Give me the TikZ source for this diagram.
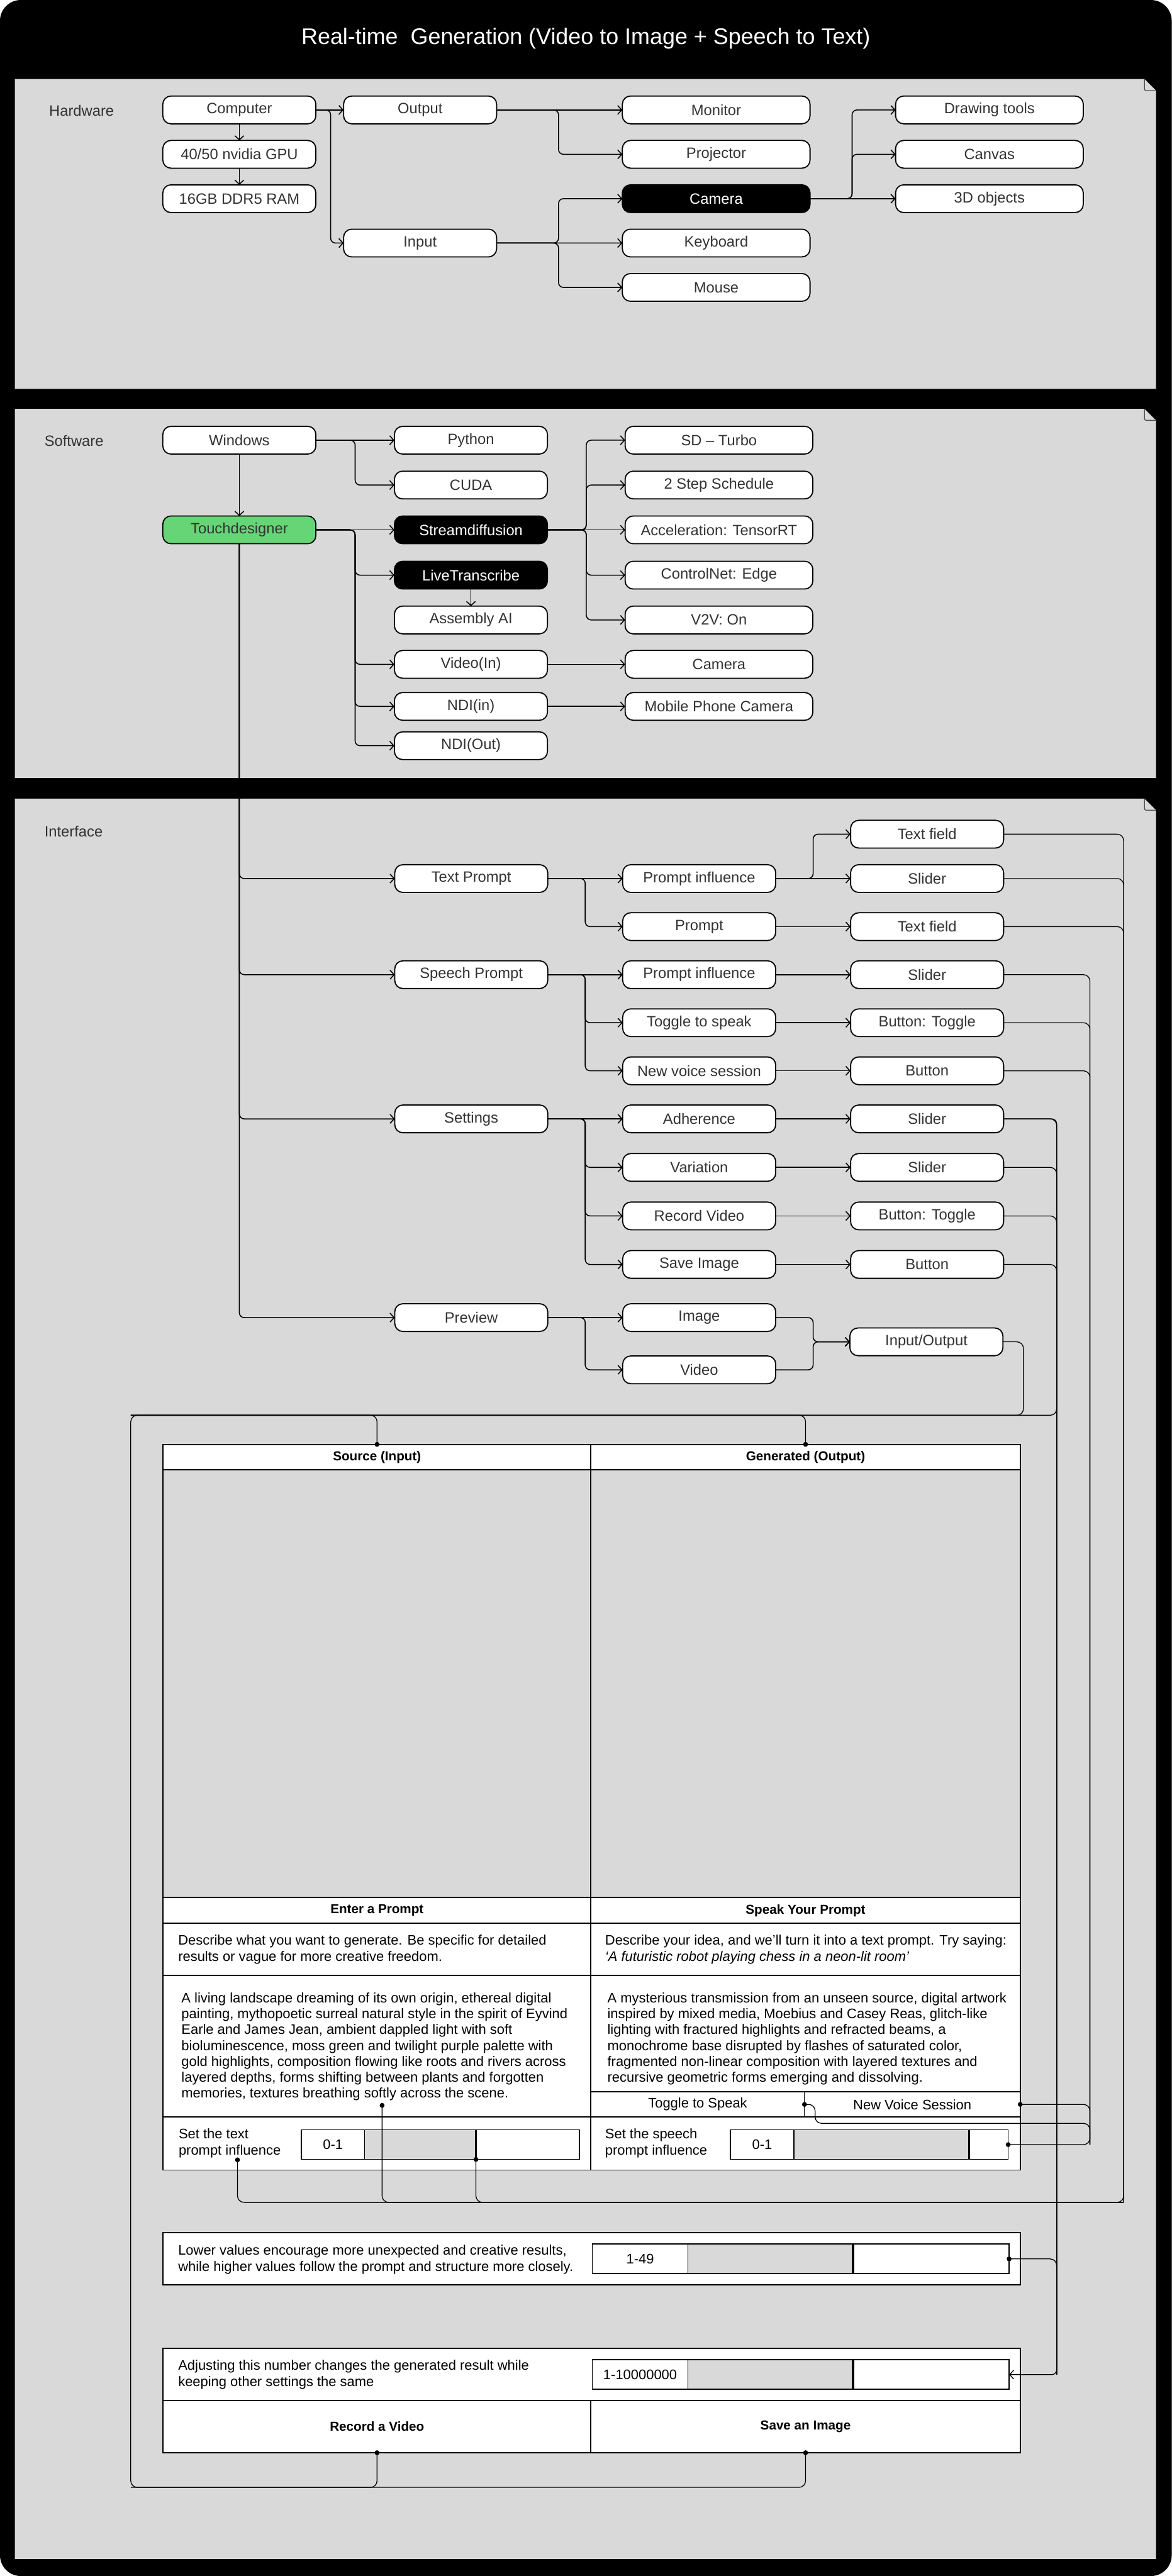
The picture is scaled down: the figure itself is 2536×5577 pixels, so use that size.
\documentclass[tikz,border=0pt]{standalone}
\usepackage{fontspec}
\setmainfont{Liberation Sans}
\usepackage{xcolor}
\usetikzlibrary{arrows.meta, positioning, calc}

\definecolor{panelgray}{HTML}{D9D9D9}
\definecolor{tdgreen}{HTML}{66D575}
\definecolor{txtgray}{HTML}{333333}

\newcommand{\boxfont}{\fontsize{9.2pt}{11pt}\selectfont}
\newcommand{\uifont}{\fontsize{8.5pt}{9.8pt}\selectfont}
\newcommand{\uibold}{\fontsize{8pt}{9.6pt}\selectfont\bfseries}
\newcommand{\titlefont}{\fontsize{13.9pt}{16pt}\selectfont}

\tikzset{
  item/.style={
    rectangle, rounded corners=5pt,
    draw=black, line width=0.7pt,
    fill=white, text=txtgray,
    minimum width=3.31cm, minimum height=0.6cm,
    inner sep=0pt, outer sep=0pt, font=\boxfont
  },
  wide/.style={item, minimum width=4.06cm},
  dark/.style={fill=black, text=white},
  tdnode/.style={fill=tdgreen},
  seclabel/.style={anchor=west, text=txtgray, font=\boxfont},
  cell/.style={
    rectangle, draw=black, line width=0.7pt,
    fill=white, inner sep=0pt, outer sep=0pt, font=\uifont
  },
  headcell/.style={cell, font=\uibold},
  slot/.style={cell, minimum height=0.64cm},
  uitext/.style={anchor=west, align=left, inner sep=0pt, font=\uifont},
  arr/.style={-{Straight Barb[length=2.5pt, width=5.5pt]}, line width=0.6pt, rounded corners=3pt},
  bus/.style={line width=0.5pt, rounded corners=4pt},
  fold/.style={draw=black!70, line width=0.5pt, rounded corners=1pt}
}

\begin{document}
\begin{tikzpicture}[x=0.01cm, y=-0.01cm]

  % ---- Frame and panels ----
  \useasboundingbox (0,0) rectangle (2536,5577);
  \fill[white] (0,0) rectangle (2536,5577);
  \fill[black, rounded corners=0.45cm] (0,0) rectangle (2536,5577);
  \node[text=white, font=\titlefont] (title) at (1268,84)
    {Real-time\ \ Generation (Video to Image + Speech to Text)};

  \foreach \ptop/\pbot in {171/842, 885/1684, 1729/5540} {
    \fill[panelgray] (32,\ptop) -- (2477,\ptop) -- (2502,\ptop+25) -- (2502,\pbot) -- (32,\pbot) -- cycle;
    \draw[fold] (2477,\ptop) |- (2502,\ptop+25);
  }

  % ---- Hardware ----
  \node[seclabel] (hwlabel) at (94,239) {Hardware};

  \node[item] (comp) at (518,238) {Computer};
  \node[item, below=0.36cm of comp] (gpu) {40/50 nvidia GPU};
  \node[item, below=0.36cm of gpu]  (ram) {16GB DDR5 RAM};

  \node[item, right=0.6cm of comp] (outp) {Output};
  \node[item, below=2.28cm of outp] (inp) {Input};

  \node[wide, right=2.72cm of outp]       (mon)   {Monitor};
  \node[wide, below=0.36cm of mon]        (proj)  {Projector};
  \node[wide, dark, below=0.36cm of proj] (cam)   {Camera};
  \node[wide, below=0.36cm of cam]        (kbd)   {Keyboard};
  \node[wide, below=0.36cm of kbd]        (mouse) {Mouse};

  \node[wide, right=1.85cm of mon]     (tools)  {Drawing tools};
  \node[wide, below=0.36cm of tools]   (canvas) {Canvas};
  \node[wide, below=0.36cm of canvas]  (objs)   {3D objects};

  \draw[arr] (comp) -- (gpu);
  \draw[arr] (gpu) -- (ram);
  \draw[arr] (comp) -- (outp);
  \draw[arr] (comp.east) -- ++(32,0) |- (inp.west);
  \draw[arr] (outp) -- (mon);
  \draw[arr] (outp.east) -- ++(134,0) |- (proj.west);
  \draw[arr] (inp) -- (kbd);
  \draw[arr] (inp.east) -- ++(134,0) |- (cam.west);
  \draw[arr] (inp.east) -- ++(134,0) |- (mouse.west);
  \draw[arr] (cam) -- (objs);
  \draw[arr] (cam.east) -- ++(91,0) |- (tools.west);
  \draw[arr] (cam.east) -- ++(91,0) |- (canvas.west);

  % ---- Software ----
  \node[seclabel] (swlabel) at (84,954) {Software};

  \node[item] (win) at (518,953) {Windows};
  \node[item, tdnode, below=1.34cm of win] (td) {Touchdesigner};

  \node[item, right=1.7cm of win]        (py)     {Python};
  \node[item, below=0.37cm of py]        (cuda)   {CUDA};
  \node[item, dark, right=1.7cm of td]   (sdiff)  {Streamdiffusion};
  \node[item, dark, below=0.38cm of sdiff] (ltr)  {LiveTranscribe};
  \node[item, below=0.37cm of ltr]       (aai)    {Assembly AI};
  \node[item, below=0.36cm of aai]       (vin)    {Video(In)};
  \node[item, below=0.31cm of vin]       (ndiin)  {NDI(in)};
  \node[item, below=0.25cm of ndiin]     (ndiout) {NDI(Out)};

  \node[wide, right=1.68cm of py]     (turbo)  {SD -- Turbo};
  \node[wide, below=0.37cm of turbo]  (sched)  {2 Step Schedule};
  \node[wide, right=1.68cm of sdiff]  (accel)  {Acceleration: TensorRT};
  \node[wide, below=0.38cm of accel]  (ctrl)   {ControlNet: Edge};
  \node[wide, below=0.37cm of ctrl]   (v2v)    {V2V: On};
  \node[wide, right=1.68cm of vin]    (cam2)   {Camera};
  \node[wide, right=1.68cm of ndiin]  (mobile) {Mobile Phone Camera};

  \draw[arr] (win) -- (py);
  \draw[arr] (win.east) -- ++(85,0) |- (cuda.west);
  \draw[arr] (win) -- (td);
  \draw[arr] (td) -- (sdiff);
  \foreach \n in {ltr, vin, ndiin, ndiout}
    \draw[arr] (td.east) -- ++(85,0) |- (\n.west);
  \draw[arr] (ltr) -- (aai);
  \draw[arr] (sdiff) -- (accel);
  \foreach \n in {turbo, sched, ctrl, v2v}
    \draw[arr] (sdiff.east) -- ++(84,0) |- (\n.west);
  \draw[arr] (vin) -- (cam2);
  \draw[arr] (ndiin) -- (mobile);

  % ---- Interface ----
  \node[seclabel] (uilabel) at (84,1800) {Interface};

  \node[item] (tp) at (1020,1902) {Text Prompt};
  \node[item, below=1.48cm of tp]   (sp)   {Speech Prompt};
  \node[item, below=2.52cm of sp]   (sets) {Settings};
  \node[item, below=3.70cm of sets] (prev) {Preview};

  \node[item, right=1.62cm of tp]   (pinf) {Prompt influence};
  \node[item, below=0.44cm of pinf] (prm)  {Prompt};
  \node[item, right=1.62cm of sp]   (sinf) {Prompt influence};
  \node[item, below=0.44cm of sinf] (tog)  {Toggle to speak};
  \node[item, below=0.44cm of tog]  (nvs)  {New voice session};
  \node[item, right=1.62cm of sets] (adh)  {Adherence};
  \node[item, below=0.45cm of adh]  (vari) {Variation};
  \node[item, below=0.45cm of vari] (recv) {Record Video};
  \node[item, below=0.45cm of recv] (savi) {Save Image};
  \node[item, right=1.62cm of prev] (img)  {Image};
  \node[item, below=0.53cm of img]  (vid)  {Video};

  \node[item, right=1.62cm of pinf]    (tslider) {Slider};
  \node[item, above=0.36cm of tslider] (tfield)  {Text field};
  \node[item, right=1.62cm of prm]     (pfield)  {Text field};
  \node[item, right=1.62cm of sinf]    (sslider) {Slider};
  \node[item, right=1.62cm of tog]     (togbtn)  {Button: Toggle};
  \node[item, right=1.62cm of nvs]     (nvsbtn)  {Button};
  \node[item, right=1.62cm of adh]     (adhsl)   {Slider};
  \node[item, right=1.62cm of vari]    (varsl)   {Slider};
  \node[item, right=1.62cm of recv]    (recbtn)  {Button: Toggle};
  \node[item, right=1.62cm of savi]    (savebtn) {Button};
  \node[item] (io) at (2005,2905) {Input/Output};

  \foreach \n in {tp, sp, sets, prev}
    \draw[arr] (td.south) |- (\n.west);
  \draw[arr] (tp) -- (pinf);
  \draw[arr] (tp.east) -- ++(81,0) |- (prm.west);
  \draw[arr] (pinf) -- (tslider);
  \draw[arr] (pinf.east) -- ++(81,0) |- (tfield.west);
  \draw[arr] (prm) -- (pfield);
  \draw[arr] (sp) -- (sinf);
  \foreach \n in {tog, nvs}
    \draw[arr] (sp.east) -- ++(81,0) |- (\n.west);
  \draw[arr] (sinf) -- (sslider);
  \draw[arr] (tog) -- (togbtn);
  \draw[arr] (nvs) -- (nvsbtn);
  \draw[arr] (sets) -- (adh);
  \foreach \n in {vari, recv, savi}
    \draw[arr] (sets.east) -- ++(81,0) |- (\n.west);
  \draw[arr] (adh) -- (adhsl);
  \draw[arr] (vari) -- (varsl);
  \draw[arr] (recv) -- (recbtn);
  \draw[arr] (savi) -- (savebtn);
  \draw[arr] (prev) -- (img);
  \draw[arr] (prev.east) -- ++(81,0) |- (vid.west);
  \draw[arr] (img.east) -- ++(81,0) |- (io.west);
  \draw[arr] (vid.east) -- ++(81,0) |- (io.west);

  % ---- Screen mock-up ----
  \node[headcell, minimum width=9.26cm, minimum height=0.55cm] (srchead) at (816,3154.5) {Source (Input)};
  \node[headcell, minimum width=9.29cm, minimum height=0.55cm] (genhead) at (1743.5,3154.5) {Generated (Output)};
  \node[cell, fill=none, minimum width=9.26cm, minimum height=9.26cm] (srcview) at (816,3645) {};
  \node[cell, fill=none, minimum width=9.29cm, minimum height=9.26cm] (genview) at (1743.5,3645) {};
  \node[headcell, minimum width=9.26cm, minimum height=0.56cm] (enthead) at (816,4136) {Enter a Prompt};
  \node[headcell, minimum width=9.29cm, minimum height=0.56cm] (spkhead) at (1743.5,4136) {Speak Your Prompt};
  \node[cell, minimum width=9.26cm, minimum height=1.13cm] (entdesc) at (816,4220.5) {};
  \node[cell, minimum width=9.29cm, minimum height=1.13cm] (spkdesc) at (1743.5,4220.5) {};
  \node[cell, minimum width=9.26cm, minimum height=3.06cm] (entpara) at (816,4430) {};
  \node[cell, minimum width=9.29cm, minimum height=2.52cm] (spkpara) at (1743.5,4403) {};
  \node[cell, minimum width=4.62cm, minimum height=0.54cm] (togcell) at (1510,4556) {Toggle to Speak};
  \node[cell, minimum width=4.67cm, minimum height=0.54cm] (nvscell) at (1974.5,4556) {New Voice Session};
  \node[cell, minimum width=9.26cm, minimum height=1.15cm] (entset) at (816,4640.5) {};
  \node[cell, minimum width=9.29cm, minimum height=1.15cm] (spkset) at (1743.5,4640.5) {};

  % sliders
  \node[slot, minimum width=1.37cm] (tval) at (720.5,4643) {0-1};
  \node[slot, fill=panelgray, minimum width=2.41cm] (tbar) at (909.5,4643) {};
  \node[slot, minimum width=2.24cm] (trest) at (1142,4643) {};
  \node[slot, minimum width=1.37cm] (sval) at (1649.5,4643) {0-1};
  \node[slot, fill=panelgray, minimum width=3.79cm] (sbar) at (1907.5,4643) {};
  \node[slot, minimum width=0.85cm] (srest) at (2139.5,4643) {};

  \node[cell, minimum width=18.55cm, minimum height=1.13cm] (adhbox) at (1280.5,4890.5) {};
  \node[slot, minimum width=2.07cm] (aval) at (1385.5,4890.5) {1-49};
  \node[slot, fill=panelgray, minimum width=3.57cm] (abar) at (1667.5,4890.5) {};
  \node[slot, minimum width=3.38cm] (arest) at (2015,4890.5) {};

  \node[cell, minimum width=18.55cm, minimum height=1.13cm] (seedbox) at (1280.5,5140.5) {};
  \node[slot, minimum width=2.07cm] (zval) at (1385.5,5141) {1-10000000};
  \node[slot, fill=panelgray, minimum width=3.57cm] (zbar) at (1667.5,5141) {};
  \node[slot, minimum width=3.38cm] (zrest) at (2015,5141) {};
  \node[headcell, minimum width=9.26cm, minimum height=1.13cm] (reccell) at (816,5253.5) {Record a Video};
  \node[headcell, minimum width=9.29cm, minimum height=1.13cm] (savecell) at (1743.5,5253.5) {Save an Image};

  \foreach \b in {tbar, sbar, abar, zbar}
    \draw[line width=1.3pt] (\b.north east) -- (\b.south east);

  % texts
  \node[uitext] (entdesctxt) at (385,4220.5)
    {Describe what you want to generate. Be specific for detailed\\results or vague for more creative freedom.};
  \node[uitext] (spkdesctxt) at (1309,4220.5)
    {Describe your idea, and we’ll turn it into a text prompt. Try saying:\\\textit{‘A futuristic robot playing chess in a neon-lit room’}};
  \node[uitext] (entparatxt) at (392,4431)
    {A living landscape dreaming of its own origin, ethereal digital\\
     painting, mythopoetic surreal natural style in the spirit of Eyvind\\
     Earle and James Jean, ambient dappled light with soft\\
     bioluminescence, moss green and twilight purple palette with\\
     gold highlights, composition flowing like roots and rivers across\\
     layered depths, forms shifting between plants and forgotten\\
     memories, textures breathing softly across the scene.};
  \node[uitext] (spkparatxt) at (1314,4414)
    {A mysterious transmission from an unseen source, digital artwork\\
     inspired by mixed media, Moebius and Casey Reas, glitch-like\\
     lighting with fractured highlights and refracted beams, a\\
     monochrome base disrupted by flashes of saturated color,\\
     fragmented non-linear composition with layered textures and\\
     recursive geometric forms emerging and dissolving.};
  \node[uitext] (entsettxt) at (386,4640) {Set the text\\prompt influence};
  \node[uitext] (spksettxt) at (1309,4640) {Set the speech\\prompt influence};
  \node[uitext] (adhtxt) at (385,4892)
    {Lower values encourage more unexpected and creative results,\\while higher values follow the prompt and structure more closely.};
  \node[uitext] (seedtxt) at (385,5141)
    {Adjusting this number changes the generated result while\\keeping other settings the same};

  % ---- Wiring to the mock-up ----
  \coordinate (paradot) at (827,4558);
  \coordinate (setdot)  at (514,4676);
  \coordinate (tbus)    at (2432,4768);
  \coordinate (sbus)    at (2359,4643);
  \coordinate (zbus)    at (2287,5141);
  \coordinate (iojoin)  at (2215,3064);
  \coordinate (hubr)    at (2287,3064);
  \coordinate (hubl)    at (283,3064);
  \coordinate (loop)    at (283,5385);

  \draw[bus] (tfield.east) -| (tbus) -| (setdot);
  \draw[bus] (tslider.east) -| (tbus);
  \draw[bus] (pfield.east) -| (tbus);
  \draw[bus] (tbus) -| (paradot);
  \draw[bus] (tbus) -| (tbar.south east);

  \draw[bus] (sslider.east) -| (sbus) -- (srest.east);
  \draw[bus] (togbtn.east) -| (sbus);
  \draw[bus] (nvsbtn.east) -| (sbus);
  \draw[bus] (nvscell.east) -| (sbus);
  \draw[bus] (togcell.east) -- ++(23,0) -- ++(0,41) -| (sbus);

  \draw[arr, line width=0.5pt] (adhsl.east) -| (zbus) -- (zrest.east);
  \draw[bus] (varsl.east) -| (zbus);
  \draw[bus] (recbtn.east) -| (zbus);
  \draw[bus] (savebtn.east) -| (zbus);
  \draw[bus] (arest.east) -| (zbus);

  \draw[bus] (adhsl.east) -| (hubr) -- (hubl) -- (loop) -| (savecell.south);
  \draw[bus] (io.east) -| (iojoin) -- (hubl);
  \draw[bus] (hubl) -| (srchead.north);
  \draw[bus] (hubl) -| (genhead.north);
  \draw[bus] (loop) -| (reccell.south);

  \foreach \p in {srchead.north, genhead.north, paradot, setdot, tbar.south east,
                  togcell.east, nvscell.east, srest.east, arest.east,
                  reccell.south, savecell.south}
    \fill (\p) circle[radius=1.5pt];

\end{tikzpicture}
\end{document}
